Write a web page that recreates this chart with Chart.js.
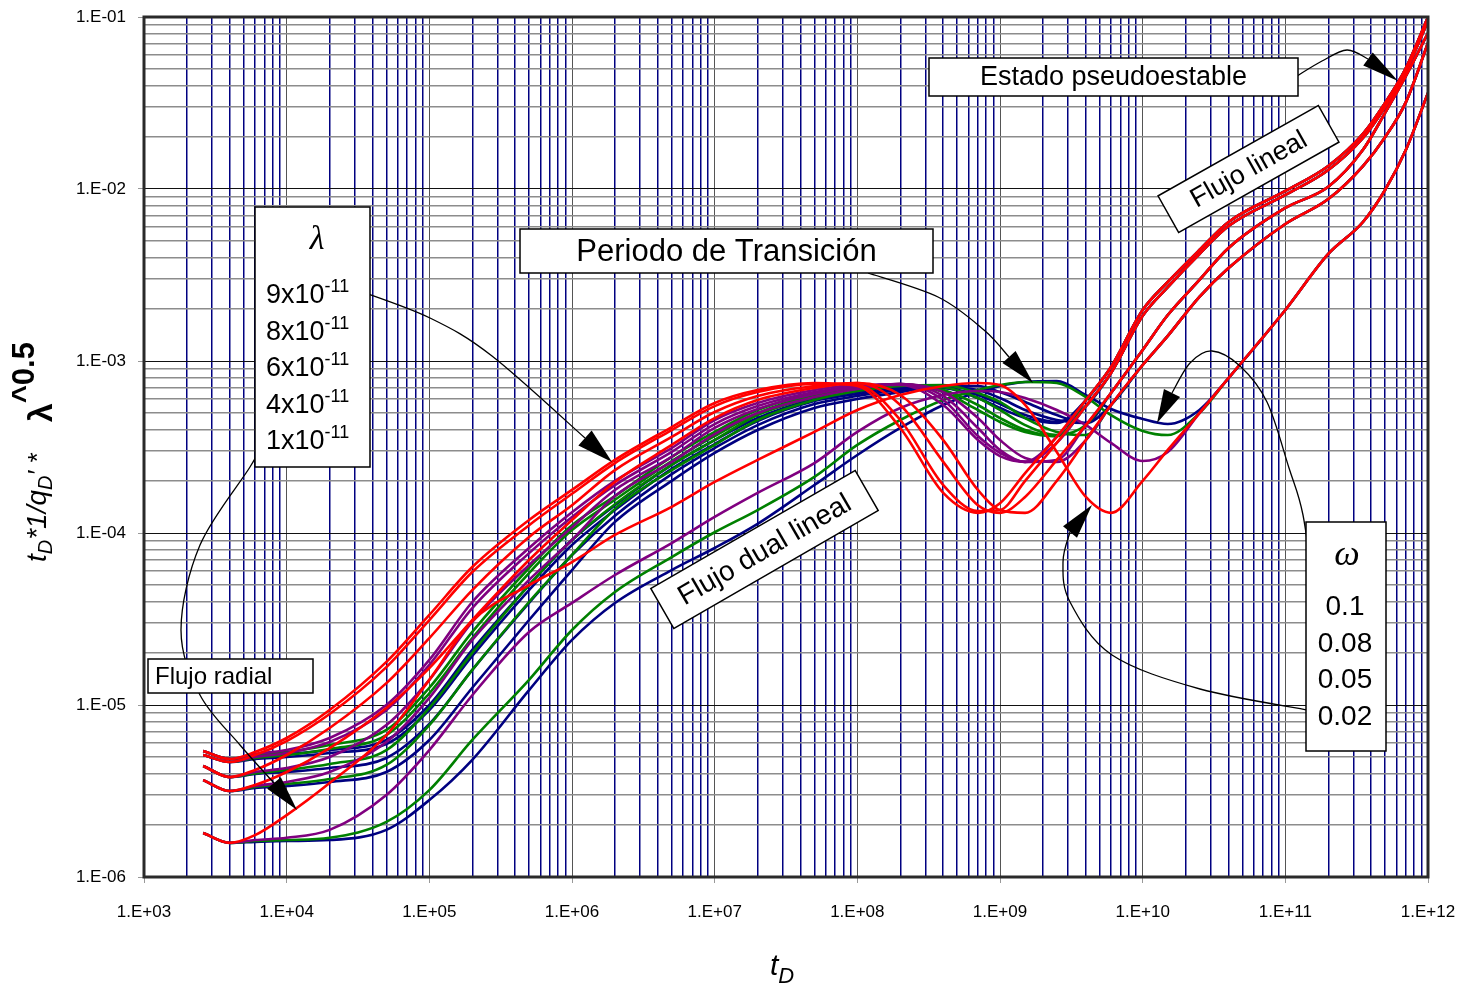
<!DOCTYPE html>
<html>
<head>
<meta charset="utf-8">
<script src="https://cdn.jsdelivr.net/npm/chart.js@4.4.0/dist/chart.umd.min.js"></script>
<style>
  html, body { margin: 0; padding: 0; background: #fff; }
  #chart { display: block; }
</style>
</head>
<body>
<canvas id="chart" width="1462" height="989"></canvas>
<script>
// dimensionless time, shared by every curve
const tD = [2.6e3, 4e3, 6e3, 1e4, 2e4, 5e4, 1e5, 2e5, 5e5, 1e6, 2e6, 5e6, 1e7, 2e7, 5e7, 1e8, 2e8, 4e8, 7e8, 1e9,
  1.5e9, 2.5e9, 4e9, 6e9, 1e10, 1.5e10, 2.5e10, 4e10, 1e11, 2e11, 3.5e11, 5e11, 7e11, 1e12];

// r = red, p = purple, g = green, b = navy ; number = lambda x 1e-11
const r9 = [5.4e-6, 4.85e-6, 5.33e-6, 6.43e-6, 9.35e-6, 1.78e-5, 3.34e-5, 6.34e-5, 1.19e-4, 1.78e-4, 2.66e-4, 4.13e-4, 5.7e-4, 6.78e-4, 7.45e-4, 7.16e-4, 4.08e-4, 1.71e-4, 1.31e-4, 1.49e-4, 2.23e-4, 3.62e-4, 5.93e-4, 9.23e-4, 1.98e-3, 2.88e-3, 4.42e-3, 6.43e-3, 9.74e-3, 1.36e-2, 2.09e-2, 3.16e-2, 5.05e-2, 0.1];
const r8 = [5.12e-6, 4.66e-6, 5.12e-6, 6.17e-6, 8.86e-6, 1.66e-5, 3.12e-5, 5.93e-5, 1.11e-4, 1.69e-4, 2.55e-4, 3.97e-4, 5.47e-4, 6.6e-4, 7.35e-4, 7.25e-4, 4.54e-4, 1.9e-4, 1.34e-4, 1.36e-4, 2.01e-4, 3.34e-4, 5.47e-4, 8.52e-4, 1.83e-3, 2.69e-3, 4.19e-3, 6.09e-3, 9.23e-3, 1.29e-2, 1.98e-2, 3.0e-2, 4.85e-2, 9.48e-2];
const r6 = [4.42e-6, 3.81e-6, 4.19e-6, 5.12e-6, 7.35e-6, 1.34e-5, 2.45e-5, 4.66e-5, 9.48e-5, 1.45e-4, 2.32e-4, 3.62e-4, 5.05e-4, 6.26e-4, 7.16e-4, 7.45e-4, 5.55e-4, 2.59e-4, 1.45e-4, 1.31e-4, 1.62e-4, 2.66e-4, 4.24e-4, 6.52e-4, 1.16e-3, 1.85e-3, 2.96e-3, 4.54e-3, 7.76e-3, 1.03e-2, 1.69e-2, 2.77e-2, 4.54e-2, 8.07e-2];
const r4 = [3.66e-6, 3.16e-6, 3.43e-6, 4.08e-6, 5.62e-6, 9.61e-6, 1.64e-5, 3.12e-5, 6.97e-5, 1.19e-4, 1.98e-4, 3.25e-4, 4.66e-4, 5.93e-4, 6.97e-4, 7.45e-4, 6.34e-4, 3.47e-4, 1.78e-4, 1.36e-4, 1.31e-4, 2.01e-4, 3.47e-4, 5.55e-4, 9.48e-4, 1.4e-3, 2.36e-3, 3.47e-3, 6.26e-3, 8.74e-3, 1.36e-2, 2.0e-2, 3.2e-2, 7.06e-2];
const r1 = [1.8e-6, 1.58e-6, 1.75e-6, 2.29e-6, 3.52e-6, 6.69e-6, 1.4e-5, 3.08e-5, 4.98e-5, 6.78e-5, 9.74e-5, 1.42e-4, 1.98e-4, 2.66e-4, 3.87e-4, 5.19e-4, 6.34e-4, 7.16e-4, 7.45e-4, 7.25e-4, 5.55e-4, 2.96e-4, 1.62e-4, 1.31e-4, 2.01e-4, 3.04e-4, 4.98e-4, 7.96e-4, 1.98e-3, 4.19e-3, 6.43e-3, 9.87e-3, 1.69e-2, 3.62e-2];

const p9 = [5.4e-6, 4.85e-6, 5.19e-6, 5.47e-6, 6.43e-6, 1.0e-5, 1.83e-5, 3.97e-5, 8.18e-5, 1.32e-4, 2.01e-4, 3.12e-4, 4.54e-4, 5.7e-4, 6.78e-4, 7.25e-4, 7.25e-4, 5.55e-4, 3.47e-4, 2.8e-4, 2.59e-4, 3.62e-4, 5.93e-4, 9.23e-4, 1.98e-3, 2.88e-3, 4.42e-3, 6.43e-3, 9.74e-3, 1.36e-2, 2.09e-2, 3.16e-2, 5.05e-2, 0.1];
const p8 = [5.12e-6, 4.66e-6, 4.98e-6, 5.26e-6, 6.09e-6, 9.35e-6, 1.71e-5, 3.66e-5, 7.64e-5, 1.24e-4, 1.9e-4, 2.96e-4, 4.3e-4, 5.47e-4, 6.6e-4, 7.16e-4, 7.35e-4, 5.93e-4, 3.66e-4, 2.92e-4, 2.59e-4, 3.34e-4, 5.47e-4, 8.52e-4, 1.83e-3, 2.69e-3, 4.19e-3, 6.09e-3, 9.23e-3, 1.29e-2, 1.98e-2, 3.0e-2, 4.85e-2, 9.48e-2];
const p6 = [4.42e-6, 3.81e-6, 4.08e-6, 4.3e-6, 4.98e-6, 7.64e-6, 1.4e-5, 3.04e-5, 6.52e-5, 1.08e-4, 1.78e-4, 2.77e-4, 4.08e-4, 5.26e-4, 6.43e-4, 7.06e-4, 7.35e-4, 6.26e-4, 4.08e-4, 3.04e-4, 2.59e-4, 2.66e-4, 4.24e-4, 6.52e-4, 1.16e-3, 1.85e-3, 2.96e-3, 4.54e-3, 7.76e-3, 1.03e-2, 1.69e-2, 2.77e-2, 4.54e-2, 8.07e-2];
const p4 = [3.66e-6, 3.16e-6, 3.38e-6, 3.57e-6, 4.08e-6, 6.09e-6, 1.1e-5, 2.39e-5, 5.33e-5, 9.11e-5, 1.64e-4, 2.59e-4, 3.76e-4, 4.98e-4, 6.17e-4, 6.88e-4, 7.35e-4, 6.6e-4, 4.66e-4, 3.47e-4, 2.73e-4, 2.59e-4, 3.47e-4, 5.55e-4, 9.48e-4, 1.4e-3, 2.36e-3, 3.47e-3, 6.26e-3, 8.74e-3, 1.36e-2, 2.0e-2, 3.2e-2, 7.06e-2];
const p1 = [1.8e-6, 1.58e-6, 1.64e-6, 1.69e-6, 1.88e-6, 3.0e-6, 5.47e-6, 1.14e-5, 2.66e-5, 3.92e-5, 5.7e-5, 8.74e-5, 1.24e-4, 1.71e-4, 2.55e-4, 3.87e-4, 5.33e-4, 6.34e-4, 6.69e-4, 6.6e-4, 6.09e-4, 5.19e-4, 4.24e-4, 3.34e-4, 2.62e-4, 2.96e-4, 4.98e-4, 7.96e-4, 1.98e-3, 4.19e-3, 6.43e-3, 9.87e-3, 1.69e-2, 3.62e-2];

const g9 = [5.4e-6, 4.85e-6, 5.12e-6, 5.33e-6, 5.85e-6, 7.16e-6, 1.26e-5, 2.66e-5, 6.26e-5, 1.11e-4, 1.64e-4, 2.77e-4, 3.87e-4, 5.19e-4, 6.52e-4, 7.06e-4, 7.35e-4, 6.6e-4, 5.19e-4, 4.42e-4, 3.87e-4, 3.66e-4, 5.93e-4, 9.23e-4, 1.98e-3, 2.88e-3, 4.42e-3, 6.43e-3, 9.74e-3, 1.36e-2, 2.09e-2, 3.16e-2, 5.05e-2, 0.1];
const g8 = [5.12e-6, 4.66e-6, 4.92e-6, 5.12e-6, 5.55e-6, 6.69e-6, 1.17e-5, 2.45e-5, 5.85e-5, 1.04e-4, 1.56e-4, 2.62e-4, 3.66e-4, 4.98e-4, 6.34e-4, 6.97e-4, 7.25e-4, 6.78e-4, 5.55e-4, 4.66e-4, 3.97e-4, 3.66e-4, 5.47e-4, 8.52e-4, 1.83e-3, 2.69e-3, 4.19e-3, 6.09e-3, 9.23e-3, 1.29e-2, 1.98e-2, 3.0e-2, 4.85e-2, 9.48e-2];
const g6 = [4.42e-6, 3.81e-6, 4.0e-6, 4.19e-6, 4.54e-6, 5.47e-6, 9.61e-6, 2.01e-5, 4.98e-5, 9.11e-5, 1.47e-4, 2.49e-4, 3.47e-4, 4.85e-4, 6.17e-4, 6.88e-4, 7.25e-4, 7.06e-4, 6.09e-4, 5.19e-4, 4.24e-4, 3.71e-4, 4.24e-4, 6.52e-4, 1.16e-3, 1.85e-3, 2.96e-3, 4.54e-3, 7.76e-3, 1.03e-2, 1.69e-2, 2.77e-2, 4.54e-2, 8.07e-2];
const g4 = [3.66e-6, 3.16e-6, 3.34e-6, 3.47e-6, 3.71e-6, 4.48e-6, 7.64e-6, 1.6e-5, 3.97e-5, 7.45e-5, 1.38e-4, 2.32e-4, 3.25e-4, 4.54e-4, 5.93e-4, 6.69e-4, 7.16e-4, 7.25e-4, 6.52e-4, 5.78e-4, 4.66e-4, 3.87e-4, 3.71e-4, 5.55e-4, 9.48e-4, 1.4e-3, 2.36e-3, 3.47e-3, 6.26e-3, 8.74e-3, 1.36e-2, 2.0e-2, 3.2e-2, 7.06e-2];
const g1 = [1.8e-6, 1.58e-6, 1.62e-6, 1.64e-6, 1.69e-6, 2.09e-6, 3.2e-6, 6.26e-6, 1.4e-5, 2.73e-5, 4.54e-5, 7.25e-5, 1.01e-4, 1.36e-4, 2.12e-4, 3.25e-4, 4.54e-4, 5.93e-4, 6.78e-4, 7.25e-4, 7.55e-4, 7.45e-4, 6.17e-4, 4.85e-4, 3.92e-4, 3.71e-4, 4.98e-4, 7.96e-4, 1.98e-3, 4.19e-3, 6.43e-3, 9.87e-3, 1.69e-2, 3.62e-2];

const b9 = [5.4e-6, 4.85e-6, 5.05e-6, 5.19e-6, 5.47e-6, 6.26e-6, 1.0e-5, 2.09e-5, 4.98e-5, 9.11e-5, 1.45e-4, 2.49e-4, 3.47e-4, 4.66e-4, 6.01e-4, 6.6e-4, 6.97e-4, 6.97e-4, 6.09e-4, 5.33e-4, 4.66e-4, 4.36e-4, 5.93e-4, 9.23e-4, 1.98e-3, 2.88e-3, 4.42e-3, 6.43e-3, 9.74e-3, 1.36e-2, 2.09e-2, 3.16e-2, 5.05e-2, 0.1];
const b8 = [5.12e-6, 4.66e-6, 4.85e-6, 4.98e-6, 5.26e-6, 5.93e-6, 9.35e-6, 1.93e-5, 4.66e-5, 8.52e-5, 1.36e-4, 2.36e-4, 3.29e-4, 4.48e-4, 5.85e-4, 6.43e-4, 6.88e-4, 6.97e-4, 6.34e-4, 5.62e-4, 4.85e-4, 4.42e-4, 5.47e-4, 8.52e-4, 1.83e-3, 2.69e-3, 4.19e-3, 6.09e-3, 9.23e-3, 1.29e-2, 1.98e-2, 3.0e-2, 4.85e-2, 9.48e-2];
const b6 = [4.42e-6, 3.81e-6, 3.97e-6, 4.08e-6, 4.3e-6, 4.92e-6, 7.76e-6, 1.6e-5, 3.92e-5, 7.45e-5, 1.26e-4, 2.2e-4, 3.12e-4, 4.24e-4, 5.62e-4, 6.26e-4, 6.78e-4, 7.06e-4, 6.78e-4, 6.09e-4, 5.19e-4, 4.54e-4, 4.36e-4, 6.52e-4, 1.16e-3, 1.85e-3, 2.96e-3, 4.54e-3, 7.76e-3, 1.03e-2, 1.69e-2, 2.77e-2, 4.54e-2, 8.07e-2];
const b4 = [3.66e-6, 3.16e-6, 3.29e-6, 3.38e-6, 3.57e-6, 4.08e-6, 6.26e-6, 1.26e-5, 3.12e-5, 6.09e-5, 1.16e-4, 2.01e-4, 2.92e-4, 3.97e-4, 5.33e-4, 6.01e-4, 6.6e-4, 7.16e-4, 7.16e-4, 6.6e-4, 5.78e-4, 4.85e-4, 4.36e-4, 5.55e-4, 9.48e-4, 1.4e-3, 2.36e-3, 3.47e-3, 6.26e-3, 8.74e-3, 1.36e-2, 2.0e-2, 3.2e-2, 7.06e-2];
const b1 = [1.8e-6, 1.58e-6, 1.6e-6, 1.62e-6, 1.64e-6, 1.88e-6, 2.8e-6, 4.8e-6, 1.22e-5, 2.39e-5, 3.92e-5, 6.09e-5, 8.18e-5, 1.13e-4, 1.9e-4, 2.84e-4, 4.08e-4, 5.55e-4, 6.6e-4, 7.16e-4, 7.55e-4, 7.64e-4, 6.34e-4, 5.26e-4, 4.6e-4, 4.3e-4, 5.19e-4, 7.96e-4, 1.98e-3, 4.19e-3, 6.43e-3, 9.87e-3, 1.69e-2, 3.62e-2];

const xDecades = [1e3, 1e4, 1e5, 1e6, 1e7, 1e8, 1e9, 1e10, 1e11, 1e12];
const yDecades = [1e-6, 1e-5, 1e-4, 1e-3, 1e-2, 1e-1];
const lambdaLabels = ['9x10', '8x10', '6x10', '4x10', '1x10'];
const omegaLabels = ['0.1', '0.08', '0.05', '0.02'];

const RED = '#ff0000', PURPLE = '#800080', GREEN = '#008000', NAVY = '#000080';
// first dataset is drawn on top, so reds go first
const curves = [
  [r9, RED], [r8, RED], [r6, RED], [r4, RED], [r1, RED],
  [p9, PURPLE], [p8, PURPLE], [p6, PURPLE], [p4, PURPLE], [p1, PURPLE],
  [g9, GREEN], [g8, GREEN], [g6, GREEN], [g4, GREEN], [g1, GREEN],
  [b9, NAVY], [b8, NAVY], [b6, NAVY], [b4, NAVY], [b1, NAVY]
];

const datasets = curves.map(([ys, color]) => ({
  data: tD.map((x, i) => ({ x: x, y: ys[i] })),
  borderColor: color,
  borderWidth: 2.6,
  pointRadius: 0,
  fill: false,
  cubicInterpolationMode: 'monotone'
}));

function logTicks(decades) {
  const t = [];
  decades.forEach((d, i) => {
    t.push({ value: d, major: true });
    if (i < decades.length - 1) {
      for (let m = 2; m <= 9; m++) t.push({ value: m * d, major: false });
    }
  });
  return t;
}

function isDecade(v) {
  const l = Math.log10(v);
  return Math.abs(l - Math.round(l)) < 1e-9;
}

function sciLabel(v) {
  const e = Math.round(Math.log10(v));
  return '1.E' + (e < 0 ? '-' : '+') + String(Math.abs(e)).padStart(2, '0');
}

const SANS = '"Liberation Sans", Arial, sans-serif';
const SERIF = '"Liberation Serif", "DejaVu Serif", serif';

function smoothLine(ctx, pts) {
  ctx.beginPath();
  ctx.moveTo(pts[0][0], pts[0][1]);
  for (let i = 0; i < pts.length - 1; i++) {
    const p0 = pts[i - 1] || pts[i], p1 = pts[i], p2 = pts[i + 1], p3 = pts[i + 2] || p2;
    ctx.bezierCurveTo(
      p1[0] + (p2[0] - p0[0]) / 6, p1[1] + (p2[1] - p0[1]) / 6,
      p2[0] - (p3[0] - p1[0]) / 6, p2[1] - (p3[1] - p1[1]) / 6,
      p2[0], p2[1]);
  }
  ctx.stroke();
}

function arrow(ctx, pts, tip, halfW) {
  smoothLine(ctx, pts);
  const base = pts[pts.length - 1];
  const dx = tip[0] - base[0], dy = tip[1] - base[1];
  const len = Math.hypot(dx, dy);
  const nx = -dy / len, ny = dx / len;
  ctx.beginPath();
  ctx.moveTo(tip[0], tip[1]);
  ctx.lineTo(base[0] + nx * halfW, base[1] + ny * halfW);
  ctx.lineTo(base[0] - nx * halfW, base[1] - ny * halfW);
  ctx.closePath();
  ctx.fill();
}

function box(ctx, cx, cy, w, h, angleDeg, text, font) {
  ctx.save();
  ctx.translate(cx, cy);
  ctx.rotate(angleDeg * Math.PI / 180);
  ctx.fillStyle = '#fff';
  ctx.fillRect(-w / 2, -h / 2, w, h);
  ctx.lineWidth = 1.5;
  ctx.strokeStyle = '#000';
  ctx.strokeRect(-w / 2, -h / 2, w, h);
  if (text) {
    ctx.fillStyle = '#000';
    ctx.font = font;
    ctx.textAlign = 'center';
    ctx.textBaseline = 'middle';
    ctx.fillText(text, 0, 1);
  }
  ctx.restore();
}

function rich(ctx, x, y, parts) {
  let cx = x;
  parts.forEach(([t, f, dy]) => {
    ctx.font = f;
    ctx.fillText(t, cx, y + dy);
    cx += ctx.measureText(t).width;
  });
}

const notes = {
  id: 'notes',
  afterDatasetsDraw(chart) {
    const ctx = chart.ctx;
    const a = chart.chartArea;
    ctx.save();
    // plot frame
    ctx.strokeStyle = '#2a2a2a';
    ctx.lineWidth = 3;
    ctx.strokeRect(a.left, a.top, a.right - a.left, a.bottom - a.top);

    ctx.strokeStyle = '#000';
    ctx.fillStyle = '#000';
    ctx.lineWidth = 1.3;
    // arrows
    arrow(ctx, [[1297, 76], [1322, 61], [1347, 50], [1368, 59]], [1398, 81], 8);
    arrow(ctx, [[868, 273], [938, 297], [984, 330], [1009, 357]], [1033, 383], 9);
    arrow(ctx, [[357, 290], [430, 318], [492, 356], [585, 438]], [612, 462], 10);
    arrow(ctx, [[265, 440], [250, 467], [200, 545], [181, 630], [200, 695], [240, 745], [274, 783]], [297, 810], 9);
    arrow(ctx, [[1315, 600], [1303, 515], [1289, 468], [1267, 402], [1240, 366], [1212, 351], [1190, 363], [1172, 393]], [1157, 423], 9);
    arrow(ctx, [[1308, 710], [1200, 689], [1112, 655], [1070, 602], [1063, 562], [1070, 532]], [1092, 505], 9);

    // text boxes
    box(ctx, 1113.5, 77, 369, 38, 0, 'Estado pseudoestable', '27px ' + SANS);
    box(ctx, 1248.5, 169, 184, 42, -29.4, 'Flujo lineal', '27px ' + SANS);
    box(ctx, 726.5, 251, 413, 44, 0, 'Periodo de Transición', '31px ' + SANS);
    box(ctx, 764.5, 549.5, 236, 46, -30, 'Flujo dual lineal', '28px ' + SANS);
    box(ctx, 230.5, 676, 165, 34, 0, '', '');
    ctx.fillStyle = '#000';
    ctx.font = '24px ' + SANS;
    ctx.textAlign = 'left';
    ctx.textBaseline = 'middle';
    ctx.fillText('Flujo radial', 155, 677);

    // lambda legend
    box(ctx, 312.5, 337, 115, 260, 0, '', '');
    ctx.fillStyle = '#000';
    ctx.textAlign = 'center';
    ctx.textBaseline = 'alphabetic';
    ctx.font = 'italic 34px ' + SERIF;
    ctx.fillText('λ', 317, 249);
    ctx.textAlign = 'left';
    lambdaLabels.forEach((lab, i) => {
      rich(ctx, 266, 303 + i * 36.5, [[lab, '27px ' + SANS, 0], ['-11', '18px ' + SANS, -11]]);
    });

    // omega legend
    box(ctx, 1346, 636.5, 80, 229, 0, '', '');
    ctx.fillStyle = '#000';
    ctx.textAlign = 'center';
    ctx.font = 'italic 36px ' + SERIF;
    ctx.fillText('ω', 1347, 565);
    ctx.font = '28px ' + SANS;
    omegaLabels.forEach((lab, i) => {
      ctx.fillText(lab, 1345, 615 + i * 36.7);
    });
    ctx.restore();
  },
  afterDraw(chart) {
    const ctx = chart.ctx;
    ctx.save();
    ctx.fillStyle = '#000';
    ctx.textAlign = 'left';
    ctx.textBaseline = 'alphabetic';
    // x title
    rich(ctx, 770, 975, [['t', 'italic 30px ' + SANS, 0], ['D', 'italic 22px ' + SANS, 8]]);
    // y title
    ctx.translate(46, 562);
    ctx.rotate(-Math.PI / 2);
    rich(ctx, 0, 0, [
      ['t', 'italic 28px ' + SANS, 0],
      ['D', 'italic 20px ' + SANS, 6],
      ['*1/q', 'italic 28px ' + SANS, 0],
      ['D', 'italic 20px ' + SANS, 6],
      ['\u2032 *', 'italic 26px ' + SANS, 0],
      ['    ', '28px ' + SANS, 0],
      ['λ', 'bold 34px ' + SANS, 6],
      ['^0.5', 'bold 31px ' + SANS, -12]
    ]);
    ctx.restore();
  }
};

const gridColor = (major, minor) => c => (c.tick && c.tick.major ? major : minor);

new Chart(document.getElementById('chart'), {
  type: 'line',
  data: { datasets: datasets },
  options: {
    responsive: false,
    animation: false,
    events: [],
    layout: { padding: { top: 17, right: 34, left: 0, bottom: 0 } },
    plugins: { legend: { display: false }, tooltip: { enabled: false } },
    scales: {
      x: {
        type: 'logarithmic',
        min: 1e3,
        max: 1e12,
        afterBuildTicks: s => { s.ticks = logTicks(xDecades); },
        afterFit: s => { s.height = 112; s.paddingLeft = 0; s.paddingRight = 0; },
        border: { display: false },
        grid: {
          color: gridColor('#555555', '#000080'),
          lineWidth: gridColor(1, 1.5),
          tickLength: 6,
          tickColor: gridColor('#999999', 'rgba(0,0,0,0)')
        },
        ticks: {
          autoSkip: false,
          maxRotation: 0,
          padding: 19,
          color: '#000',
          font: { family: SANS, size: 17 },
          callback: v => (isDecade(v) ? sciLabel(v) : '')
        }
      },
      y: {
        type: 'logarithmic',
        min: 1e-6,
        max: 1e-1,
        afterBuildTicks: s => { s.ticks = logTicks(yDecades); },
        afterFit: s => { s.width = 144; s.paddingTop = 0; s.paddingBottom = 0; },
        border: { display: false },
        grid: {
          color: gridColor('#111111', '#8c8c8c'),
          lineWidth: gridColor(1, 1.6),
          tickLength: 6,
          tickColor: gridColor('#999999', 'rgba(0,0,0,0)')
        },
        ticks: {
          autoSkip: false,
          padding: 12,
          color: '#000',
          font: { family: SANS, size: 17 },
          callback: v => (isDecade(v) ? sciLabel(v) : '')
        }
      }
    }
  },
  plugins: [notes]
});
</script>
</body>
</html>
